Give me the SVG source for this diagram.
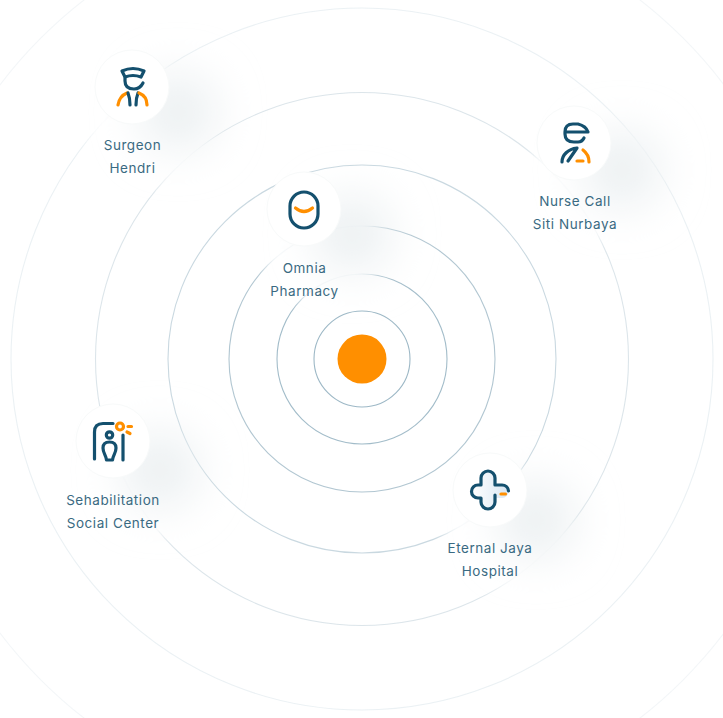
<svg xmlns="http://www.w3.org/2000/svg" width="723" height="718" viewBox="0 0 723 718">
<style>
.ring{fill:none;stroke:#9db8c6;stroke-width:1.100}
.label{font-family:"Inter","Liberation Sans",sans-serif;font-size:13.500px;letter-spacing:.55px;fill:#3a6a82;text-anchor:middle}
.d{fill:none;stroke:#14506e;stroke-width:3.200;stroke-linecap:round;stroke-linejoin:round}
.o{fill:none;stroke:#ff8f00;stroke-width:3.200;stroke-linecap:round;stroke-linejoin:round}
.disc{fill:#fff;stroke:#f8fafa;stroke-width:1}
.glow{fill:#e9eef0}
.mask{fill:#fff}
</style>
<defs>
<filter id="b" x="-150%" y="-150%" width="400%" height="400%"><feGaussianBlur stdDeviation="24"/></filter>
<filter id="m" x="-100%" y="-100%" width="300%" height="300%"><feGaussianBlur stdDeviation="8"/></filter>
<linearGradient id="tint" x1="0" y1="0" x2="1" y2="0"><stop offset="0" stop-color="#fff"/><stop offset="1" stop-color="#d8e6f2"/></linearGradient>
</defs>
<rect width="723" height="718" fill="#fff"/>
<g id="connectors">
<circle class="ring" cx="362" cy="359" r="48"/>
<circle class="ring" cx="362" cy="359" r="85" opacity=".95"/>
<circle class="ring" cx="362" cy="359" r="133" opacity=".8"/>
<circle class="ring" cx="362" cy="359" r="194" opacity=".55"/>
<circle class="ring" cx="362" cy="359" r="266.500" opacity=".36"/>
<circle class="ring" cx="362" cy="359" r="351" opacity=".2"/>
<circle class="ring" cx="362" cy="359" r="454" opacity=".12"/>
</g>
<circle id="center" cx="362" cy="359" r="24.500" fill="#ff8f00"/>
<g id="node-surgeon">
<ellipse class="mask" cx="150" cy="125" rx="62" ry="60" filter="url(#m)" opacity=".9"/>
<circle class="glow" cx="178" cy="112" r="36" filter="url(#b)"/>
<circle class="disc" cx="132" cy="87" r="37"/>
<path class="d" fill="#fff" d="M122 71Q133 66 144 71L141 77Q133 74 125 77Z"/>
<path class="d" d="M125 78V81Q125 89 134 89Q140 89 143 83"/>
<path class="o" d="M118 105C119 99 122 95 127 93"/>
<path class="d" d="M128 93Q130 98 130 105M138 93Q136 98 136 105"/>
<path class="o" d="M139 93C144 95 147 99 147 105"/>
<text class="label" x="132.500" y="150">Surgeon</text>
<text class="label" x="132.500" y="173">Hendri</text>
</g>
<g id="node-nurse">
<ellipse class="mask" cx="590" cy="180" rx="62" ry="60" filter="url(#m)" opacity=".9"/>
<circle class="glow" cx="622" cy="170" r="36" filter="url(#b)"/>
<circle class="disc" cx="574" cy="143" r="37"/>
<path class="d" d="M566 132H588Q586 126 578 124H573Q565 124 565 132V134Q565 142 574 142H578Q582 142 584 138"/>
<path class="d" d="M562 162C562 155 568 149 577 148L568 161"/>
<path class="o" d="M583 150C587 153 589 157 589 162M577 161H583"/>
<text class="label" x="575" y="206">Nurse Call</text>
<text class="label" x="575" y="229">Siti Nurbaya</text>
</g>
<g id="node-omnia">
<ellipse class="mask" cx="320" cy="248" rx="58" ry="56" filter="url(#m)" opacity=".9"/>
<circle class="glow" cx="352" cy="234" r="36" filter="url(#b)"/>
<circle class="disc" cx="304" cy="209" r="37"/>
<rect class="d" x="290" y="192" width="28" height="36" rx="14" fill="url(#tint)"/>
<path class="o" d="M295.500 208Q304 215 312.500 208"/>
<text class="label" x="304.500" y="273">Omnia</text>
<text class="label" x="304.500" y="296">Pharmacy</text>
</g>
<g id="node-rehab">
<ellipse class="mask" cx="130" cy="485" rx="62" ry="60" filter="url(#m)" opacity=".9"/>
<circle class="glow" cx="160" cy="470" r="36" filter="url(#b)"/>
<circle class="disc" cx="113" cy="441" r="37"/>
<path class="d" d="M94.500 459V432Q94.500 423.500 103 423.500H113"/>
<path class="d" d="M123 435V460"/>
<circle class="d" cx="109.500" cy="435" r="3.200" stroke-width="2.500"/>
<path class="d" fill="url(#tint)" stroke-width="2.500" d="M109.500 442Q116 442 116 448C116 453 113 455 112.500 460H106.500C106 455 103 453 103 448Q103 442 109.500 442Z"/>
<circle class="o" cx="120" cy="426.500" r="3.500" stroke-width="2.500"/>
<path class="o" stroke-width="2.500" d="M128 426.500H131.500M127 432L130 433.500"/>
<text class="label" x="113" y="505">Sehabilitation</text>
<text class="label" x="113" y="528">Social Center</text>
</g>
<g id="node-eternal">
<ellipse class="mask" cx="508" cy="530" rx="62" ry="60" filter="url(#m)" opacity=".9"/>
<circle class="glow" cx="536" cy="520" r="36" filter="url(#b)"/>
<circle class="disc" cx="490" cy="490" r="37"/>
<path fill="url(#tint)" d="M481 485V478A7 7 0 0 1 495 478V485H502A6.500 6.500 0 0 1 502 498H495V502A7 7 0 0 1 481 502V498H478A6.500 6.500 0 0 1 478 485Z"/>
<path class="d" d="M495 495V502A7 7 0 0 1 481 502V498H478A6.500 6.500 0 0 1 478 485H481V478A7 7 0 0 1 495 478V485H502A6.500 6.500 0 0 1 508.500 491"/>
<path class="o" d="M501 494H505.500"/>
<text class="label" x="490" y="553">Eternal Jaya</text>
<text class="label" x="490" y="576">Hospital</text>
</g>
</svg>
